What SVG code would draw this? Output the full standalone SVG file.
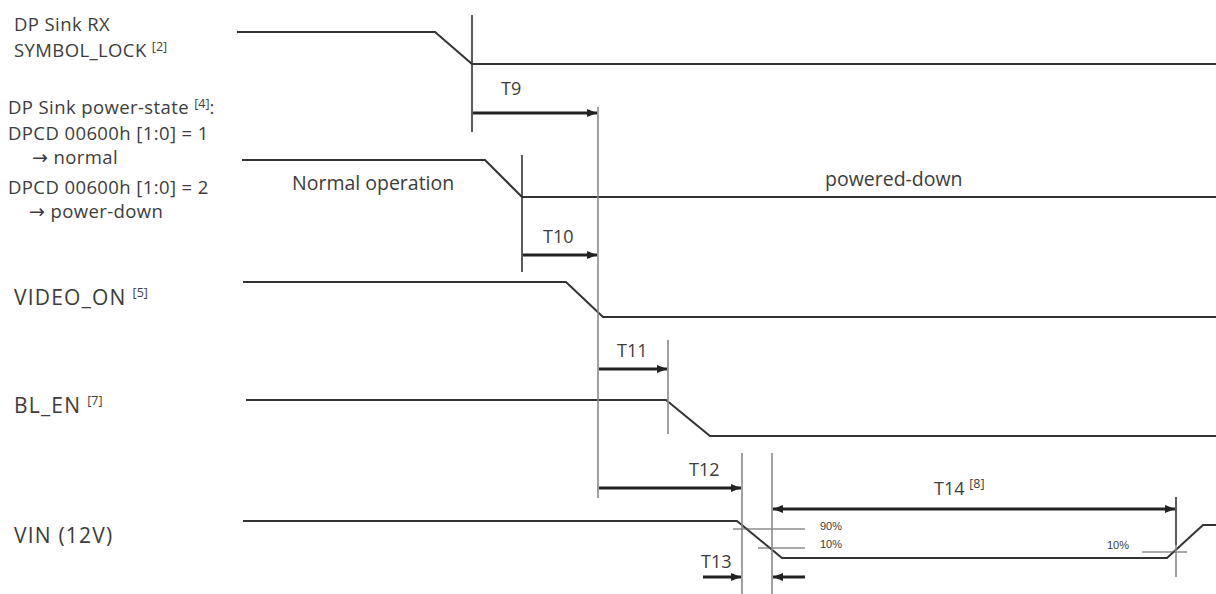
<svg xmlns="http://www.w3.org/2000/svg" width="1216" height="594" viewBox="0 0 1216 594">
<defs>
<style>
text{font-family:"Open Sans","Liberation Sans",Arial,sans-serif;fill:#3c3c3c}
.lbl{font-size:18.5px;letter-spacing:0.4px}
.big{font-size:21px;letter-spacing:1.2px}
.st{font-size:19.5px}
.t{font-size:18px}
.sup{font-size:12.5px;letter-spacing:0}
.ar{font-family:"DejaVu Sans",sans-serif;font-size:19px}
.pct{font-size:11px;font-family:"Liberation Sans",Arial,sans-serif}
.sig{fill:none;stroke:#333;stroke-width:2;stroke-linejoin:miter}
.vd{stroke:#333;stroke-width:1.6}
.vg{stroke:#8a8a8a;stroke-width:1.6}
.thr{stroke:#555;stroke-width:1.2}
.arr{stroke:#222;stroke-width:3;fill:none}
</style>
<marker id="ah" viewBox="0 0 10 8" refX="10" refY="4" markerWidth="10" markerHeight="8" markerUnits="userSpaceOnUse" orient="auto-start-reverse">
<path d="M0,0 L10,4 L0,8 Z" fill="#222"/>
</marker>
</defs>
<rect width="1216" height="594" fill="#fff"/>

<g id="labels">
<text class="lbl" x="14" y="31">DP Sink RX</text>
<text class="lbl" x="14" y="57">SYMBOL_LOCK <tspan class="sup" dy="-6">[2]</tspan></text>
<text class="lbl" x="8" y="114">DP Sink power-state <tspan class="sup" dy="-6">[4]</tspan><tspan dy="6">:</tspan></text>
<text class="lbl" x="8" y="140">DPCD 00600h [1:0] = 1</text>
<text class="lbl" x="32" y="164"><tspan class="ar">→</tspan> normal</text>
<text class="lbl" x="8" y="194">DPCD 00600h [1:0] = 2</text>
<text class="lbl" x="29" y="218"><tspan class="ar">→</tspan> power-down</text>
<text class="big" x="14" y="305">VIDEO_ON<tspan class="sup" dx="6" dy="-8">[5]</tspan></text>
<text class="big" x="14" y="413">BL_EN<tspan class="sup" dx="6" dy="-8">[7]</tspan></text>
<text class="big" x="14" y="543">VIN (12V)</text>
</g>

<g id="signal-symbol-lock">
<polyline class="sig" points="237,32 435,32 472,64 1216,64"/>
</g>
<g id="signal-power-state">
<polyline class="sig" points="242,160 485,160 522,197 1216,197"/>
<text class="st" x="292" y="190">Normal operation</text>
<text class="st" x="825" y="186">powered-down</text>
</g>
<g id="signal-video-on">
<polyline class="sig" points="243,282 566,282 603,317 1216,317"/>
</g>
<g id="signal-bl-en">
<polyline class="sig" points="246,400 666,400 710,436 1216,436"/>
</g>
<g id="signal-vin">
<polyline class="sig" points="243,521 737,521 782,558 1167,558 1203,525 1216,525"/>
<line class="thr" x1="733" y1="529" x2="805" y2="529"/>
<line class="thr" x1="758" y1="548" x2="805" y2="548"/>
<line class="thr" x1="1142" y1="552" x2="1187" y2="552"/>
<text class="pct" x="820" y="530">90%</text>
<text class="pct" x="820" y="548">10%</text>
<text class="pct" x="1107" y="549">10%</text>
</g>

<g id="connectors">
<line class="vd" x1="472" y1="15" x2="472" y2="132"/>
<line class="vd" x1="522" y1="155" x2="522" y2="272"/>
<line class="vg" x1="598" y1="107" x2="598" y2="498"/>
<line class="vg" x1="668" y1="340" x2="668" y2="434"/>
<line class="vg" x1="742" y1="453" x2="742" y2="594"/>
<line class="vg" x1="772" y1="453" x2="772" y2="594"/>
<line class="vd" x1="1176" y1="497" x2="1176" y2="545"/>
<line class="vg" x1="1176" y1="545" x2="1176" y2="577"/>

<line class="arr" x1="473" y1="113" x2="597" y2="113" marker-end="url(#ah)"/>
<line class="arr" x1="523" y1="255" x2="597" y2="255" marker-end="url(#ah)"/>
<line class="arr" x1="599" y1="369" x2="667" y2="369" marker-end="url(#ah)"/>
<line class="arr" x1="599" y1="488" x2="741" y2="488" marker-end="url(#ah)"/>
<line class="arr" x1="773" y1="509" x2="1175" y2="509" marker-start="url(#ah)" marker-end="url(#ah)"/>
<line class="arr" x1="703" y1="577" x2="741" y2="577" marker-end="url(#ah)"/>
<line class="arr" x1="805" y1="577" x2="773" y2="577" marker-end="url(#ah)"/>

<text class="t" x="501" y="95">T9</text>
<text class="t" x="543" y="243">T10</text>
<text class="t" x="617" y="357">T11</text>
<text class="t" x="689" y="476">T12</text>
<text class="t" x="701" y="568">T13</text>
<text class="t" x="934" y="495">T14 <tspan class="sup" font-size="11" dy="-7">[8]</tspan></text>
</g>
</svg>
